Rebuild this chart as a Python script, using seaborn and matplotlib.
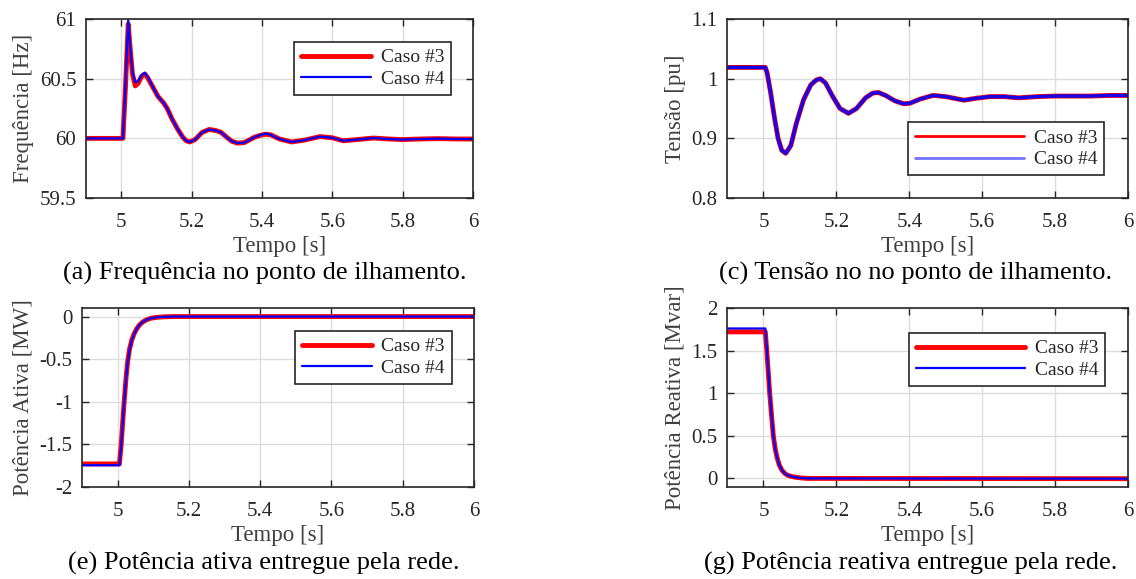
import numpy as np
import pandas as pd
import matplotlib
matplotlib.use('Agg')
import matplotlib.pyplot as plt
import seaborn as sns

# ---------------------- dados ----------------------
# (a) frequência no ponto de ilhamento [Hz]
t_freq = [4.90, 5.005, 5.012, 5.020, 5.026, 5.032, 5.040, 5.048, 5.058, 5.067,
          5.075, 5.090, 5.105, 5.120, 5.131, 5.145, 5.160, 5.175, 5.185, 5.195,
          5.210, 5.230, 5.250, 5.270, 5.284, 5.300, 5.315, 5.331, 5.350, 5.379,
          5.395, 5.410, 5.425, 5.450, 5.484, 5.520, 5.565, 5.600, 5.631, 5.670,
          5.717, 5.760, 5.800, 5.850, 5.900, 5.950, 6.000]
freq_caso3 = [60.00, 60.00, 60.42, 60.96, 60.74, 60.54, 60.44, 60.46, 60.52, 60.54,
              60.51, 60.43, 60.35, 60.30, 60.25, 60.16, 60.08, 60.01, 59.98, 59.97,
              59.99, 60.05, 60.075, 60.065, 60.05, 60.01, 59.975, 59.96, 59.965, 60.01,
              60.025, 60.035, 60.03, 59.995, 59.97, 59.985, 60.015, 60.005, 59.98, 59.99,
              60.003, 59.995, 59.99, 59.995, 59.998, 59.995, 59.995]
freq_caso4 = [60.00, 60.00, 60.44, 60.99, 60.76, 60.56, 60.47, 60.48, 60.53, 60.55,
              60.52, 60.43, 60.35, 60.30, 60.25, 60.16, 60.08, 60.01, 59.98, 59.97,
              59.99, 60.05, 60.075, 60.065, 60.05, 60.01, 59.975, 59.96, 59.965, 60.01,
              60.028, 60.04, 60.03, 59.995, 59.97, 59.985, 60.015, 60.005, 59.98, 59.99,
              60.003, 59.995, 59.99, 59.995, 59.998, 59.995, 59.995]

# (c) tensão no ponto de ilhamento [pu]
t_tensao = [4.90, 5.005, 5.010, 5.020, 5.030, 5.040, 5.050, 5.061, 5.075, 5.090,
            5.110, 5.130, 5.145, 5.156, 5.170, 5.190, 5.210, 5.233, 5.255, 5.280,
            5.300, 5.315, 5.335, 5.360, 5.385, 5.402, 5.430, 5.465, 5.500, 5.550,
            5.580, 5.620, 5.660, 5.700, 5.750, 5.800, 5.850, 5.900, 5.950, 6.000]
tensao_caso3 = [1.019, 1.019, 1.010, 0.975, 0.935, 0.900, 0.880, 0.875, 0.888, 0.925,
                0.965, 0.990, 0.998, 1.000, 0.993, 0.970, 0.950, 0.942, 0.950, 0.968,
                0.976, 0.977, 0.972, 0.963, 0.958, 0.959, 0.966, 0.972, 0.970, 0.964,
                0.967, 0.970, 0.970, 0.968, 0.970, 0.971, 0.971, 0.971, 0.972, 0.972]
tensao_caso4 = [1.019, 1.019, 1.010, 0.975, 0.935, 0.900, 0.880, 0.875, 0.888, 0.925,
                0.965, 0.990, 0.998, 1.000, 0.993, 0.970, 0.950, 0.942, 0.950, 0.968,
                0.976, 0.977, 0.972, 0.963, 0.958, 0.959, 0.966, 0.972, 0.970, 0.964,
                0.967, 0.970, 0.970, 0.968, 0.970, 0.971, 0.971, 0.971, 0.972, 0.972]

# (e) potência ativa entregue pela rede [MW]
t_pot = [4.900, 5.005, 5.010, 5.014, 5.019, 5.024, 5.028, 5.033, 5.040, 5.047,
         5.054, 5.061, 5.070, 5.080, 5.093, 5.108, 5.130, 5.160, 6.000]
p_caso3 = [-1.73, -1.73, -1.50, -1.25, -0.96, -0.70, -0.53, -0.39, -0.27, -0.195,
           -0.14, -0.10, -0.065, -0.04, -0.02, -0.01, -0.003, 0.0, 0.0]
p_caso4 = [-1.745, -1.745, -1.52, -1.27, -0.97, -0.71, -0.54, -0.40, -0.275, -0.2,
           -0.14, -0.10, -0.065, -0.04, -0.02, -0.01, -0.003, 0.0, 0.0]

# (g) potência reativa entregue pela rede [Mvar]
t_reat = [4.900, 5.005, 5.009, 5.013, 5.017, 5.022, 5.027, 5.032, 5.037, 5.043,
          5.050, 5.058, 5.065, 5.075, 5.086, 5.100, 5.120, 6.000]
q_caso3 = [1.72, 1.72, 1.50, 1.25, 1.00, 0.74, 0.50, 0.35, 0.25, 0.16,
           0.10, 0.06, 0.04, 0.025, 0.015, 0.007, 0.0, -0.003]
q_caso4 = [1.76, 1.76, 1.53, 1.27, 1.01, 0.75, 0.50, 0.35, 0.25, 0.16,
           0.10, 0.06, 0.04, 0.025, 0.015, 0.007, 0.0, -0.003]

legenda = ['Caso #3', 'Caso #4']
xticks = [5, 5.2, 5.4, 5.6, 5.8, 6]

# ---------------------- estilo ----------------------
sns.set_style('ticks')
plt.rcParams['font.family'] = ['Liberation Serif', 'DejaVu Serif']
cinza = '#262626'

fig = plt.figure(figsize=(11.36, 5.79), dpi=100)

# posições dos eixos (fração da figura)
ax_a = fig.add_axes([0.0757, 0.658, 0.3407, 0.309])
ax_c = fig.add_axes([0.640, 0.658, 0.353, 0.309])
ax_e = fig.add_axes([0.0722, 0.159, 0.345, 0.309])
ax_g = fig.add_axes([0.640, 0.159, 0.353, 0.309])


def desenha(ax, t, y3, y4, ylabel, ylim, yticks, yticklabels, lw3, lw4, alpha4,
            leg_loc, leg_anchor, handlelen):
    sns.lineplot(x=t, y=y3, ax=ax, color='red', lw=lw3, label=legenda[0],
                 estimator=None, sort=False)
    sns.lineplot(x=t, y=y4, ax=ax, color='blue', lw=lw4, alpha=alpha4,
                 label=legenda[1], estimator=None, sort=False)
    ax.set_xlim(4.9, 6)
    ax.set_ylim(*ylim)
    ax.set_xticks(xticks)
    ax.set_xticklabels(['5', '5.2', '5.4', '5.6', '5.8', '6'])
    ax.set_yticks(yticks)
    ax.set_yticklabels(yticklabels)
    ax.grid(True, color='#dcdcdc', lw=1)
    ax.set_axisbelow(True)
    ax.tick_params(direction='in', length=5, width=1, top=True, right=True,
                   labelsize=15, colors=cinza)
    ax.tick_params(axis='x', pad=11)
    ax.tick_params(axis='y', pad=7)
    for s in ax.spines.values():
        s.set_color(cinza)
        s.set_linewidth(1.2)
        s.set_visible(True)
    ax.set_xlabel('Tempo [s]', fontsize=16.5, color='#404040', labelpad=3)
    ax.set_ylabel(ylabel, fontsize=16.5, color='#404040', labelpad=4)
    leg = ax.legend(loc=leg_loc, bbox_to_anchor=leg_anchor, fontsize=14,
                    frameon=True, fancybox=False, edgecolor='#262626',
                    handlelength=handlelen, borderpad=0.35, labelspacing=0.2,
                    handletextpad=0.5, borderaxespad=0)
    leg.get_frame().set_linewidth(1.2)
    leg.get_frame().set_alpha(1)
    for txt in leg.get_texts():
        txt.set_color(cinza)


desenha(ax_a, t_freq, freq_caso3, freq_caso4, 'Frequência [Hz]', (59.5, 61),
        [59.5, 60, 60.5, 61], ['59.5', '60', '60.5', '61'], 3.5, 1.6, 1.0,
        'upper right', (0.943, 0.872), 3.6)
desenha(ax_c, t_tensao, tensao_caso3, tensao_caso4, 'Tensão [pu]', (0.8, 1.1),
        [0.8, 0.9, 1.0, 1.1], ['0.8', '0.9', '1', '1.1'], 3.5, 2.5, 0.9,
        'lower right', (0.94, 0.128), 5.6)
desenha(ax_e, t_pot, p_caso3, p_caso4, 'Potência Ativa [MW]', (-2, 0.1),
        [-2, -1.5, -1, -0.5, 0], ['-2', '-1.5', '-1', '-0.5', '0'], 3.5, 1.6, 1.0,
        'upper right', (0.943, 0.872), 3.6)
desenha(ax_g, t_reat, q_caso3, q_caso4, 'Potência Reativa [Mvar]', (-0.1, 2),
        [0, 0.5, 1, 1.5, 2], ['0', '0.5', '1', '1.5', '2'], 3.5, 1.6, 1.0,
        'upper right', (0.943, 0.86), 5.6)

# legenda do painel (c): linhas finas
for ln, lw, a in zip(ax_c.get_legend().get_lines(), [2.0, 2.0], [1.0, 0.55]):
    ln.set_linewidth(lw)
    ln.set_alpha(a)

# legendas das figuras
fig.text(0.233, 0.528, '(a) Frequência no ponto de ilhamento.', fontsize=19,
         ha='center', va='center', color='black')
fig.text(0.806, 0.528, '(c) Tensão no no ponto de ilhamento.', fontsize=19,
         ha='center', va='center', color='black')
fig.text(0.232, 0.027, '(e) Potência ativa entregue pela rede.', fontsize=19,
         ha='center', va='center', color='black')
fig.text(0.802, 0.027, '(g) Potência reativa entregue pela rede.', fontsize=19,
         ha='center', va='center', color='black')

fig.savefig('out.png', dpi=100)
